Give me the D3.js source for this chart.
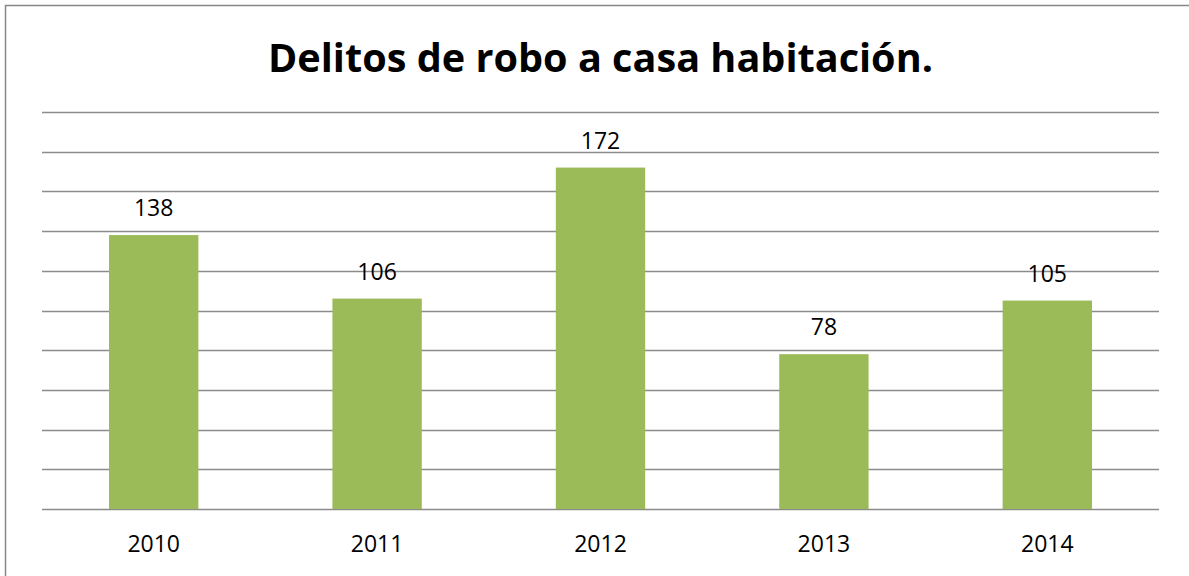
<!DOCTYPE html>
<html>
<head>
<meta charset="utf-8">
<script src="https://cdn.jsdelivr.net/npm/d3@7"></script>
<style>
  html, body { margin: 0; padding: 0; background: #fff; }
  svg { display: block; }
</style>
</head>
<body>
<svg id="chart" width="1189" height="576"></svg>
<script>
const years = ["2010", "2011", "2012", "2013", "2014"];
const robos = [138, 106, 172, 78, 105];
const gridValues = [0, 20, 40, 60, 80, 100, 120, 140, 160, 180, 200];
const title = "Delitos de robo a casa habitación.";

const width = 1189;
const height = 576;
const plot = { left: 42, right: 1159, top: 112, bottom: 509 };

const svg = d3.select("#chart");

// outer chart border (runs off the right/bottom edge in the original)
svg.append("rect")
    .attr("x", 5.5)
    .attr("y", 5.5)
    .attr("width", 1220)
    .attr("height", 620)
    .attr("fill", "#fff")
    .attr("stroke", "#878787")
    .attr("stroke-width", 1.5);

const x = d3.scaleBand()
    .domain(years)
    .range([plot.left, plot.right])
    .paddingInner(0.6)
    .paddingOuter(0.3);

const y = d3.scaleLinear()
    .domain([0, 200])
    .range([plot.bottom, plot.top]);

// horizontal gridlines
svg.append("g")
    .attr("class", "grid")
    .selectAll("line")
    .data(gridValues)
    .enter().append("line")
    .attr("x1", plot.left)
    .attr("x2", plot.right)
    .attr("y1", d => Math.round(y(d)) + 0.5)
    .attr("y2", d => Math.round(y(d)) + 0.5)
    .attr("stroke", "#8c8c8c")
    .attr("stroke-width", 1.5);

// bars
svg.append("g")
    .attr("class", "bars")
    .selectAll("rect")
    .data(robos)
    .enter().append("rect")
    .attr("x", (d, i) => x(years[i]))
    .attr("y", d => y(d))
    .attr("width", x.bandwidth())
    .attr("height", d => y(0) - y(d))
    .attr("fill", "#9bbb59");

// value labels
svg.append("g")
    .attr("class", "labels")
    .selectAll("text")
    .data(robos)
    .enter().append("text")
    .attr("x", (d, i) => x(years[i]) + x.bandwidth() / 2)
    .attr("y", d => y(d) - 19)
    .attr("text-anchor", "middle")
    .style("font-family", "'Open Sans', sans-serif")
    .style("font-size", "23px")
    .attr("fill", "#000")
    .text(d => d);

// category axis, no ticks or domain line
const xAxis = svg.append("g")
    .attr("transform", `translate(0,${plot.bottom})`)
    .call(d3.axisBottom(x).tickSize(0).tickPadding(0));

xAxis.select(".domain").remove();
xAxis.selectAll("text")
    .attr("dy", null)
    .attr("y", 43)
    .style("font-family", "'Open Sans', sans-serif")
    .style("font-size", "23px")
    .attr("fill", "#000");

// title, squeezed to the width of the original narrow font
svg.append("text")
    .attr("x", 600.5)
    .attr("y", 72)
    .attr("text-anchor", "middle")
    .style("font-family", "'Open Sans', sans-serif")
    .style("font-weight", "bold")
    .style("font-size", "40px")
    .attr("textLength", 665)
    .attr("lengthAdjust", "spacingAndGlyphs")
    .attr("fill", "#000")
    .text(title);
</script>
</body>
</html>
